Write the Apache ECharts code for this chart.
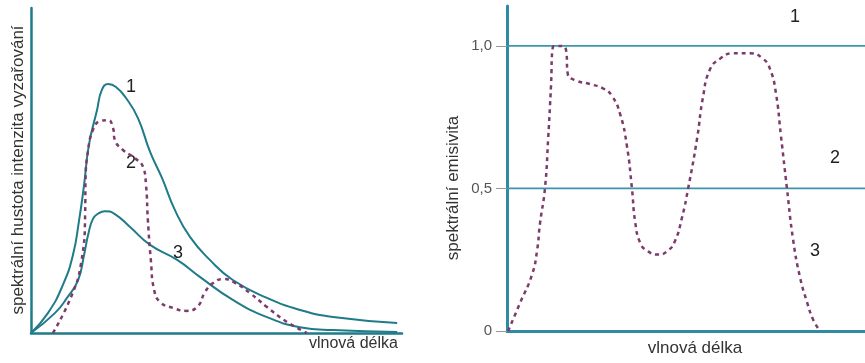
<!DOCTYPE html>
<html>
<head>
<meta charset="utf-8">
<script src="https://cdn.jsdelivr.net/npm/echarts@6/dist/echarts.min.js"></script>
<style>
  html, body { margin: 0; padding: 0; background: #fff; }
  #chart { width: 865px; height: 363px; }
</style>
</head>
<body>
<div id="chart"></div>
<script>
// levý graf: spektrální hustota (x = vlnová délka, rel. jednotky 0..100)
var cerneTeleso = [[0,0],[4.6,6.2],[8.6,14.8],[11.3,24.0],[12.9,34.2],[14.3,45.5],[15.6,57.8],[17.8,68.6],[19.1,74.8],[20.8,76.6],
    [22.9,75.7],[25.6,72.3],[28.8,66.2],[32.1,55.7],[35.3,47.7],[38.8,37.8],[42.9,29.5],[48.2,22.5],[54.4,16.3],[63.6,10.8],
    [72.5,7.1],[81.4,4.9],[98.7,3.1]];
var sedeTeleso = [[0,0],[6.5,6.2],[9.7,10.8],[12.7,16.3],[14.3,24.0],[15.4,30.2],[16.7,35.1],[18.3,36.9],[19.9,37.5],[22.6,36.6],
    [26.7,32.6],[32.1,27.1],[39.4,22.5],[45.6,17.2],[54.4,10.2],[63.6,4.9],[72.5,1.8],[81.4,0.9],[98.7,0.3]];
var selektivni = [[5.9,0],[10.8,11.1],[13.5,21.5],[14.6,36.9],[14.7,47.1],[15.4,56.3],[16.7,62.5],[18.6,65.2],[20.8,65.5],
    [22.1,63.1],[22.6,59.4],[24.8,56.3],[28.0,53.8],[30.2,51.1],[31.0,45.5],[31.5,34.8],[32.3,22.5],[33.2,13.2],
    [34.8,9.5],[38.3,7.7],[42.0,6.8],[45.0,8.3],[46.9,12.6],[49.1,15.4],[51.8,16.6],[55.0,15.4],[59.0,12.3],[63.6,8],[69.0,3.4],[74.4,0]];

// pravý graf: spektrální emisivita
var emisivita1 = [[0,1],[100,1]];
var emisivita2 = [[0,0.5],[100,0.5]];
var emisivita3 = [[0.3,0],[3.6,0.097],[7.0,0.198],[8.4,0.282],[9.2,0.376],[10.6,0.5],[11.5,0.675],[12.3,0.862],[12.8,0.996],
    [13.7,1.0],[15.6,1.0],[16.5,0.985],[17.0,0.9],[19.0,0.88],[23.2,0.866],[26.8,0.851],[29.3,0.825],[31.6,0.761],[33.5,0.649],
    [34.9,0.5],[35.8,0.383],[37.2,0.309],[39.1,0.282],[42.2,0.268],[44.7,0.279],[46.9,0.315],[48.9,0.399],[50.6,0.5],[53.1,0.675],
    [54.7,0.817],[56.7,0.918],[59.5,0.955],[63.1,0.974],[67.9,0.974],[71.5,0.955],[73.5,0.918],[75.1,0.836],[76.5,0.687],[78.2,0.5],
    [79.9,0.322],[81.8,0.191],[83.8,0.101],[85.5,0.04],[86.9,0.01]];
var emisivitaTicks = [0, 0.5, 1];

var teal = '#1f7b88';
var tealLight = '#3a97ab';
var purple = '#7d3a6c';
var font = 'Liberation Sans, Arial, sans-serif';

var chart = echarts.init(document.getElementById('chart'));

var hiddenX = function (idx, col) {
    return {
        type: 'value', gridIndex: idx, min: 0, max: 100,
        axisLine: { show: true, onZero: false, lineStyle: { color: col, width: idx ? 3 : 2.5 } },
        axisTick: { show: false }, axisLabel: { show: false }, splitLine: { show: false }
    };
};

var option = {
    animation: false,
    grid: [
        { left: 31, top: 8, width: 371, height: 325 },
        { left: 507, top: 6, width: 358, height: 325 }
    ],
    xAxis: [hiddenX(0, teal), hiddenX(1, '#2f8ca0')],
    yAxis: [
        {
            type: 'value', gridIndex: 0, min: 0, max: 100,
            axisLine: { show: true, lineStyle: { color: teal, width: 2.5 } },
            axisTick: { show: false }, axisLabel: { show: false }, splitLine: { show: false }
        },
        {
            type: 'value', gridIndex: 1, min: 0, max: 1.14,
            axisLine: { show: true, lineStyle: { color: '#2f8ca0', width: 3 } },
            axisTick: { show: true, customValues: emisivitaTicks, length: 11, lineStyle: { color: '#999', width: 1 } },
            axisLabel: {
                customValues: emisivitaTicks, margin: 15, color: '#555', fontSize: 15, fontFamily: font,
                formatter: function (v) { return v === 0 ? '0' : v.toFixed(1).replace('.', ','); }
            },
            splitLine: { show: false }
        }
    ],
    series: [
        { type: 'line', xAxisIndex: 0, yAxisIndex: 0, data: cerneTeleso, smooth: 0.5, showSymbol: false,
          lineStyle: { color: teal, width: 2 } },
        { type: 'line', xAxisIndex: 0, yAxisIndex: 0, data: sedeTeleso, smooth: 0.5, showSymbol: false,
          lineStyle: { color: teal, width: 2 } },
        { type: 'line', xAxisIndex: 0, yAxisIndex: 0, data: selektivni, smooth: 0.5, showSymbol: false,
          lineStyle: { color: purple, width: 2.5, type: [4, 4] } },
        { type: 'line', xAxisIndex: 1, yAxisIndex: 1, data: emisivita1, showSymbol: false,
          lineStyle: { color: tealLight, width: 1.8 } },
        { type: 'line', xAxisIndex: 1, yAxisIndex: 1, data: emisivita2, showSymbol: false,
          lineStyle: { color: tealLight, width: 1.8 } },
        { type: 'line', xAxisIndex: 1, yAxisIndex: 1, data: emisivita3, smooth: 0.5, showSymbol: false, clip: false,
          lineStyle: { color: purple, width: 2.5, type: [4, 4] } }
    ],
    graphic: [
        { type: 'text', left: 126, top: 78, style: { text: '1', fontSize: 18, fontFamily: font, fill: '#222' } },
        { type: 'text', left: 126, top: 154, style: { text: '2', fontSize: 18, fontFamily: font, fill: '#222' } },
        { type: 'text', left: 173, top: 244, style: { text: '3', fontSize: 18, fontFamily: font, fill: '#222' } },
        { type: 'text', left: 309, top: 336, style: { text: 'vlnová délka', fontSize: 16, fontFamily: font, fill: '#333' } },
        { type: 'text', x: 18, y: 170, rotation: Math.PI / 2, style: { text: 'spektrální hustota intenzita vyzařování',
          fontSize: 17, fontFamily: font, fill: '#333', align: 'center', verticalAlign: 'middle' } },
        { type: 'text', left: 790, top: 8, style: { text: '1', fontSize: 18, fontFamily: font, fill: '#222' } },
        { type: 'text', left: 830, top: 149, style: { text: '2', fontSize: 18, fontFamily: font, fill: '#222' } },
        { type: 'text', left: 810, top: 242, style: { text: '3', fontSize: 18, fontFamily: font, fill: '#222' } },
        { type: 'text', x: 695, y: 348, style: { text: 'vlnová délka', fontSize: 17, fontFamily: font, fill: '#333',
          align: 'center', verticalAlign: 'middle' } },
        { type: 'text', x: 453, y: 188, rotation: Math.PI / 2, style: { text: 'spektrální emisivita',
          fontSize: 17, fontFamily: font, fill: '#333', align: 'center', verticalAlign: 'middle' } }
    ]
};

chart.setOption(option);
</script>
</body>
</html>
